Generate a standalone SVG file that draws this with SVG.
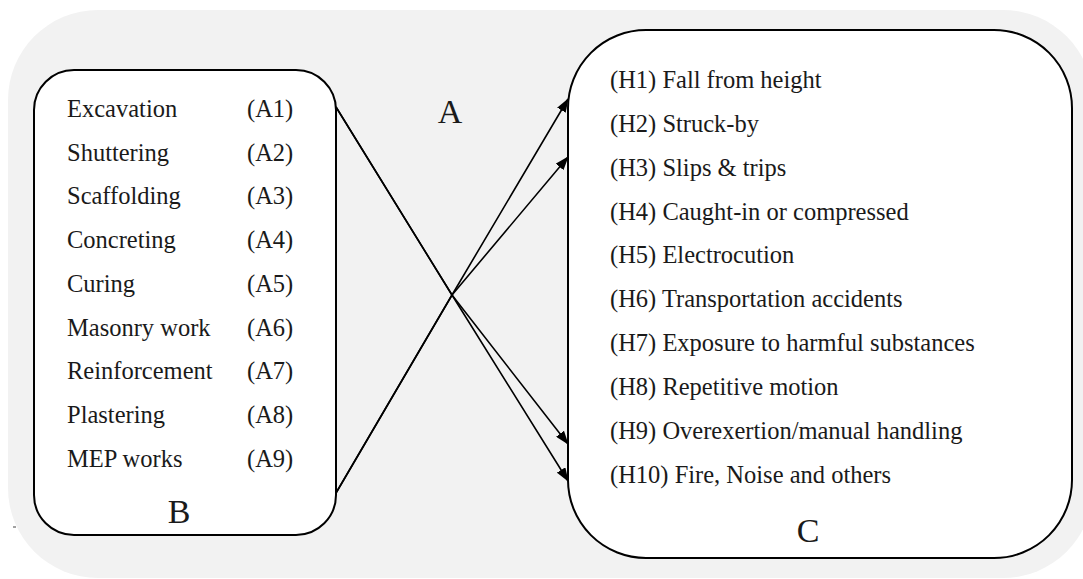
<svg xmlns="http://www.w3.org/2000/svg" width="1083" height="579" viewBox="0 0 1083 579">
<style>
.bg{fill:#f2f2f2;stroke:none}
.box{fill:#ffffff;stroke:#000000;stroke-width:2}
.t{font-family:"Liberation Serif","Times New Roman",serif;font-size:24.5px;fill:#1a1a1a}
.lbl{font-family:"Liberation Serif","Times New Roman",serif;font-size:34px;fill:#1a1a1a;text-anchor:middle}
.conn{fill:none;stroke:#000000;stroke-width:1.6;stroke-linejoin:round}
</style>
<defs>
<marker id="arr" viewBox="0 0 14 10" refX="13" refY="5" markerWidth="14" markerHeight="10" markerUnits="userSpaceOnUse" orient="auto">
<path d="M0,0 L14,5 L0,10 Z" fill="#000000"/>
</marker>
</defs>
<rect class="bg" x="8" y="10" width="1085" height="568" rx="90" ry="90"/>
<line x1="13" y1="527" x2="16" y2="527" stroke="#444" stroke-width="1"/>
<g id="nodeB">
<rect class="box" x="34" y="70" width="302" height="465" rx="40" ry="40"/>
<text class="t" x="67" y="117">Excavation</text><text class="t" x="247" y="117">(A1)</text>
<text class="t" x="67" y="161">Shuttering</text><text class="t" x="247" y="161">(A2)</text>
<text class="t" x="67" y="204">Scaffolding</text><text class="t" x="247" y="204">(A3)</text>
<text class="t" x="67" y="248">Concreting</text><text class="t" x="247" y="248">(A4)</text>
<text class="t" x="67" y="292">Curing</text><text class="t" x="247" y="292">(A5)</text>
<text class="t" x="67" y="336">Masonry work</text><text class="t" x="247" y="336">(A6)</text>
<text class="t" x="67" y="379">Reinforcement</text><text class="t" x="247" y="379">(A7)</text>
<text class="t" x="67" y="423">Plastering</text><text class="t" x="247" y="423">(A8)</text>
<text class="t" x="67" y="467">MEP works</text><text class="t" x="247" y="467">(A9)</text>
<text class="lbl" x="179" y="523">B</text>
</g>
<g id="nodeC">
<rect class="box" x="568" y="30" width="504" height="528" rx="78" ry="78"/>
<text class="t" x="610" y="88">(H1) Fall from height</text>
<text class="t" x="610" y="132">(H2) Struck-by</text>
<text class="t" x="610" y="176">(H3) Slips &amp; trips</text>
<text class="t" x="610" y="220">(H4) Caught-in or compressed</text>
<text class="t" x="610" y="263">(H5) Electrocution</text>
<text class="t" x="610" y="307">(H6) Transportation accidents</text>
<text class="t" x="610" y="351">(H7) Exposure to harmful substances</text>
<text class="t" x="610" y="395">(H8) Repetitive motion</text>
<text class="t" x="610" y="439">(H9) Overexertion/manual handling</text>
<text class="t" x="610" y="483">(H10) Fire, Noise and others</text>
<text class="lbl" x="808" y="542">C</text>
</g>
<g id="labelA">
<text class="lbl" x="450" y="123">A</text>
</g>
<g id="connectors">
<path class="conn" d="M336,107 L452,295 L568,444" marker-end="url(#arr)"/>
<path class="conn" d="M336,107 L452,295 L568,481" marker-end="url(#arr)"/>
<path class="conn" d="M336,493 L452,295 L568,99" marker-end="url(#arr)"/>
<path class="conn" d="M336,493 L452,295 L568,157" marker-end="url(#arr)"/>
</g>
</svg>
